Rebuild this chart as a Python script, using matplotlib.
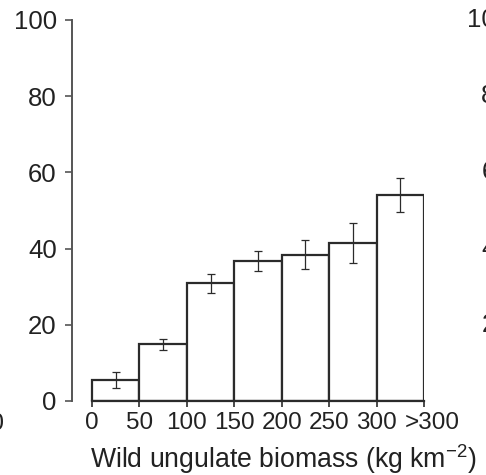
import numpy as np
import matplotlib.pyplot as plt
from matplotlib.transforms import ScaledTranslation

plt.rcParams['font.family'] = ['Liberation Sans', 'DejaVu Sans']

# biomass classes (kg km^-2) and values
bin_labels = ['0', '50', '100', '150', '200', '250', '300', '>300']
values = [5.5, 14.9, 30.9, 36.8, 38.4, 41.5, 54.0]
errors = [2.2, 1.4, 2.5, 2.6, 3.8, 5.2, 4.4]
yticks = [0, 20, 40, 60, 80, 100]

ink = '#2b2b2b'
txt = '#222222'
fs = 18.5
W, H = 486, 475

fig = plt.figure(figsize=(W / 100, H / 100), dpi=100)
ax = fig.add_axes([72 / W, (H - 401) / H, (424 - 72) / W, (401 - 20) / H])

x = np.arange(len(values))
ax.bar(x, values, width=1, align='edge', facecolor='white',
       edgecolor=ink, linewidth=1.6, zorder=2)
ax.errorbar(x + 0.5, values, yerr=errors, fmt='none', ecolor=ink,
            elinewidth=0.9, capsize=2.6, capthick=0.9, zorder=3)

# left spine sits a little away from the first bar
ax.set_xlim(-0.42, len(values))
ax.set_ylim(0, 100)
ax.spines['top'].set_visible(False)
ax.spines['right'].set_visible(False)
ax.spines['left'].set_bounds(0, 100)
ax.spines['bottom'].set_bounds(0, len(values))
ax.spines['left'].set_color('#555555')
ax.spines['left'].set_linewidth(1.4)
ax.spines['bottom'].set_color(ink)
ax.spines['bottom'].set_linewidth(1.6)

ax.set_xticks(np.arange(len(bin_labels)))
ax.set_xticklabels(bin_labels)
ax.set_yticks(yticks)
ax.tick_params(axis='x', length=4, width=1.2, color=ink, pad=4,
               labelsize=17.5, labelcolor=txt)
ax.tick_params(axis='y', length=5, width=1.2, color='#555555', pad=6,
               labelsize=fs, labelcolor=txt)
# last label sits a bit right of its tick
last = ax.get_xticklabels()[-1]
last.set_transform(last.get_transform() + ScaledTranslation(8 / 100, 0, fig.dpi_scale_trans))
ax.set_xlabel('Wild ungulate biomass (kg km$^{\\mathregular{-2}}$)',
              fontsize=19.2, color=txt, labelpad=1)
ax.xaxis.set_label_coords((283 - 72) / (424 - 72), -58 / (401 - 20))
ax.xaxis.label.set_va('center')

# fragments of the neighbouring panels, cut by the figure edges
fig.text(5 / W, (H - 424) / H, '>300', ha='right', va='center',
         fontsize=17.5, color=txt)
for v in yticks[1:]:
    ypx = 401 - v * (401 - 20) / 100
    fig.text(510 / W, (H - ypx) / H, str(v), ha='right', va='center',
             fontsize=fs, color=txt)

fig.savefig('out.png', dpi=100)
